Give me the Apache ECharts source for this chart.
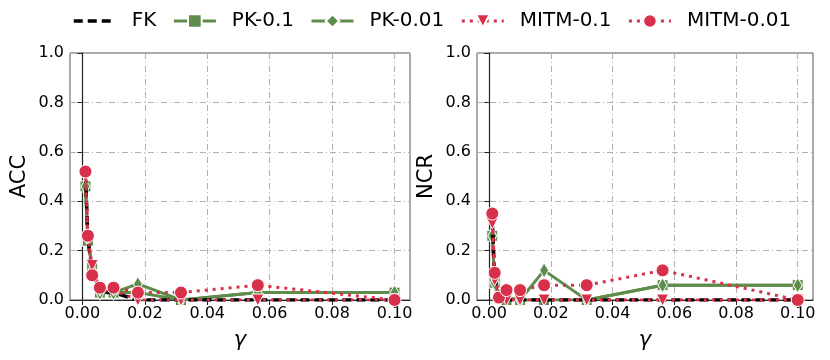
<!DOCTYPE html>
<html>
<head>
<meta charset="utf-8">
<script src="https://cdn.jsdelivr.net/npm/echarts@6/dist/echarts.min.js"></script>
<style>
html, body { margin: 0; padding: 0; background: #fff; }
#chart { width: 830px; height: 360px; }
</style>
</head>
<body>
<div id="chart"></div>
<script>
// gamma values (log spaced)
var gammas = [0.001, 0.00178, 0.00316, 0.00562, 0.01, 0.0178, 0.0316, 0.0562, 0.1];
var xTicks = [0, 0.02, 0.04, 0.06, 0.08, 0.1];

// ACC panel
var accFK = [0.51, 0.25, 0.11, 0.03, 0.03, 0, 0, 0, 0];
var accPK01 = [0.46, 0.24, 0.13, 0.03, 0.03, 0.03, 0, 0.03, 0.03];
var accPK001 = [0.46, 0.25, 0.12, 0.03, 0.03, 0.065, 0, 0.03, 0.03];
var accMITM01 = [0.50, 0.25, 0.14, 0.04, 0.04, 0, 0, 0, 0];
var accMITM001 = [0.52, 0.26, 0.10, 0.05, 0.05, 0.03, 0.03, 0.06, 0];

// NCR panel
var ncrFK = [0.32, 0.09, 0, 0, 0, 0, 0, 0, 0];
var ncrPK01 = [0.26, 0.07, 0.02, 0, 0, 0, 0, 0.06, 0.06];
var ncrPK001 = [0.26, 0.07, 0.02, 0.01, 0, 0.12, 0, 0.06, 0.06];
var ncrMITM01 = [0.31, 0.08, 0.01, 0, 0, 0, 0, 0, 0];
var ncrMITM001 = [0.35, 0.11, 0.01, 0.04, 0.04, 0.06, 0.06, 0.12, 0];

var GREEN = '#5e8c4b';
var RED = '#d8304a';
var FONT = 'DejaVu Sans';

function pairs(ys) {
  return gammas.map(function (g, i) { return [g, ys[i]]; });
}

function panelSeries(idx, fk, pk01, pk001, m01, m001) {
  var base = { type: 'line', xAxisIndex: idx, yAxisIndex: idx, animation: false, clip: true };
  return [
    Object.assign({}, base, {
      name: 'PK-0.1', data: pairs(pk01), z: 2,
      symbol: 'rect', symbolSize: 11,
      lineStyle: { color: GREEN, width: 3 },
      itemStyle: { color: GREEN, borderColor: '#fff', borderWidth: 1 }
    }),
    Object.assign({}, base, {
      name: 'PK-0.01', data: pairs(pk001), z: 3,
      symbol: 'diamond', symbolSize: [9, 15],
      lineStyle: { color: GREEN, width: 3 },
      itemStyle: { color: GREEN, borderColor: '#fff', borderWidth: 1 }
    }),
    Object.assign({}, base, {
      name: 'FK', data: pairs(fk), z: 4,
      symbol: 'none',
      lineStyle: { color: '#000', width: 3.5, type: [9, 5] },
      itemStyle: { color: '#000' }
    }),
    Object.assign({}, base, {
      name: 'MITM-0.1', data: pairs(m01), z: 5,
      symbol: 'triangle', symbolRotate: 180, symbolSize: 12,
      lineStyle: { color: RED, width: 3, type: [3, 5] },
      itemStyle: { color: RED, borderColor: '#fff', borderWidth: 1 }
    }),
    Object.assign({}, base, {
      name: 'MITM-0.01', data: pairs(m001), z: 6,
      symbol: 'circle', symbolSize: 13,
      lineStyle: { color: RED, width: 3, type: [3, 5] },
      itemStyle: { color: RED, borderColor: '#fff', borderWidth: 1 }
    })
  ];
}

var gridLine = { show: true, lineStyle: { color: '#b0b0b0', width: 1, type: [6, 3, 1, 3] } };

function xAxis(idx) {
  return {
    type: 'value', gridIndex: idx,
    min: -0.00395, max: 0.10495,
    name: 'γ', nameLocation: 'middle', nameGap: 30,
    nameTextStyle: { fontFamily: FONT, fontSize: 21, fontStyle: 'italic', color: '#000' },
    axisLine: { show: true, onZero: false, lineStyle: { color: '#222', width: 1.2 } },
    axisTick: { show: true, length: 5, customValues: xTicks, lineStyle: { color: '#222' } },
    axisLabel: {
      customValues: xTicks, margin: 6,
      fontFamily: FONT, fontSize: 16, color: '#000',
      formatter: function (v) { return v.toFixed(2); }
    },
    splitLine: gridLine
  };
}

function yAxis(idx, label) {
  return {
    type: 'value', gridIndex: idx,
    min: 0, max: 1, interval: 0.2,
    name: label, nameLocation: 'middle', nameGap: 40,
    nameTextStyle: { fontFamily: FONT, fontSize: 21, color: '#000' },
    axisLine: { show: true, lineStyle: { color: '#222', width: 1.2 } },
    axisTick: { show: true, length: 5, lineStyle: { color: '#222' } },
    axisLabel: {
      margin: 6, fontFamily: FONT, fontSize: 16, color: '#000',
      formatter: function (v) { return v.toFixed(1); }
    },
    splitLine: gridLine
  };
}

var chart = echarts.init(document.getElementById('chart'), null, { renderer: 'canvas' });
chart.setOption({
  backgroundColor: '#fff',
  animation: false,
  legend: {
    top: 6, left: 67,
    data: [
      { name: 'FK', itemStyle: { opacity: 0 } },
      'PK-0.1', 'PK-0.01', 'MITM-0.1', 'MITM-0.01'
    ],
    itemWidth: 42, itemHeight: 17, itemGap: 16,
    lineStyle: { width: 'inherit' },
    textStyle: { fontFamily: FONT, fontSize: 20, color: '#000', padding: [0, 0, 0, 11] }
  },
  grid: [
    { left: 70, top: 53, width: 340, height: 247, show: true, borderColor: '#555', borderWidth: 1, backgroundColor: 'transparent' },
    { left: 477, top: 53, width: 336, height: 247, show: true, borderColor: '#555', borderWidth: 1, backgroundColor: 'transparent' }
  ],
  xAxis: [xAxis(0), xAxis(1)],
  yAxis: [yAxis(0, 'ACC'), yAxis(1, 'NCR')],
  series: panelSeries(0, accFK, accPK01, accPK001, accMITM01, accMITM001)
    .concat(panelSeries(1, ncrFK, ncrPK01, ncrPK001, ncrMITM01, ncrMITM001))
});
</script>
</body>
</html>
